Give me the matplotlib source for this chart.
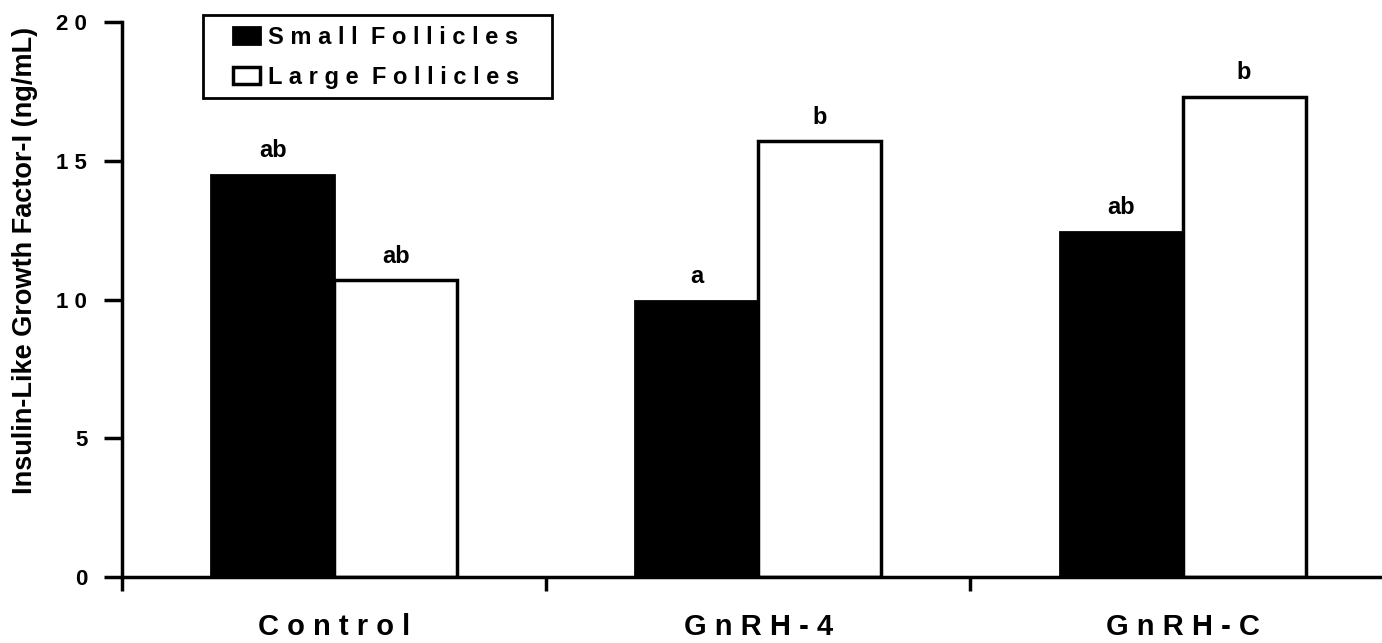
import numpy as np
from matplotlib import pyplot as plt
from matplotlib.patches import Rectangle

groups = ['Control', 'GnRH-4', 'GnRH-C']
small_follicles = [14.5, 9.95, 12.45]
large_follicles = [10.7, 15.7, 17.3]
small_letters = ['ab', 'a', 'ab']
large_letters = ['ab', 'b', 'b']
series_names = ['Small Follicles', 'Large Follicles']
y_ticks = [0, 5, 10, 15, 20]


def spaced(s):
    return ' '.join(s)


plt.rcParams['font.family'] = 'Liberation Sans'
plt.rcParams['font.weight'] = 'bold'

W, H = 1382, 643
fig = plt.figure(figsize=(W / 100, H / 100), dpi=100)
ax = fig.add_axes([122 / W, 1 - 577 / H, 1 - 122 / W, 555 / H])

xs = np.arange(len(groups))
w = 0.29
b1 = ax.bar(xs - w / 2, small_follicles, w, color='black', edgecolor='black', linewidth=2)
b2 = ax.bar(xs + w / 2, large_follicles, w, color='white', edgecolor='black', linewidth=2.5)

for x, v, t in zip(xs - w / 2, small_follicles, small_letters):
    ax.text(x, v + 0.45, t, ha='center', va='bottom', fontsize=17, fontweight='bold')
for x, v, t in zip(xs + w / 2, large_follicles, large_letters):
    ax.text(x, v + 0.45, t, ha='center', va='bottom', fontsize=17, fontweight='bold')

ax.set_xlim(-0.5, 2.47)
ax.set_ylim(0, 20)
ax.set_yticks(y_ticks)
ax.set_yticklabels([spaced(str(t)) for t in y_ticks], fontsize=16, fontweight='bold')
ax.set_xticks([-0.5, 0.5, 1.5])
ax.set_xticklabels([])
ax.set_xticks(xs, minor=True)
ax.set_xticklabels([spaced(g) for g in groups], minor=True, fontsize=21, fontweight='bold')
ax.tick_params(axis='x', which='minor', length=0, pad=26)
ax.tick_params(axis='x', which='major', length=10, width=2.5, direction='out')
ax.tick_params(axis='y', length=13, width=2.5, direction='out', pad=12)

for s in ['top', 'right']:
    ax.spines[s].set_visible(False)
for s in ['left', 'bottom']:
    ax.spines[s].set_linewidth(2.5)

ax.set_ylabel('Insulin-Like Growth Factor-I (ng/mL)', fontsize=19.5, fontweight='bold')
ax.yaxis.set_label_coords(-0.067, 0.571)

leg = fig.legend([b1, b2], [spaced(n).replace('   ', '  ') for n in series_names],
                 loc='upper left', bbox_to_anchor=(233 / W, 1 - 26 / H),
                 fontsize=17, frameon=False, handlelength=1.15,
                 handleheight=0.72, handletextpad=0.35, borderpad=0, labelspacing=0.72,
                 borderaxespad=0)
for t in leg.get_texts():
    t.set_fontweight('bold')
fig.patches.append(Rectangle((203 / W, 1 - 98 / H), 349 / W, 83 / H, transform=fig.transFigure,
                             fill=False, edgecolor='black', linewidth=2))

plt.savefig('out.png', dpi=100)
